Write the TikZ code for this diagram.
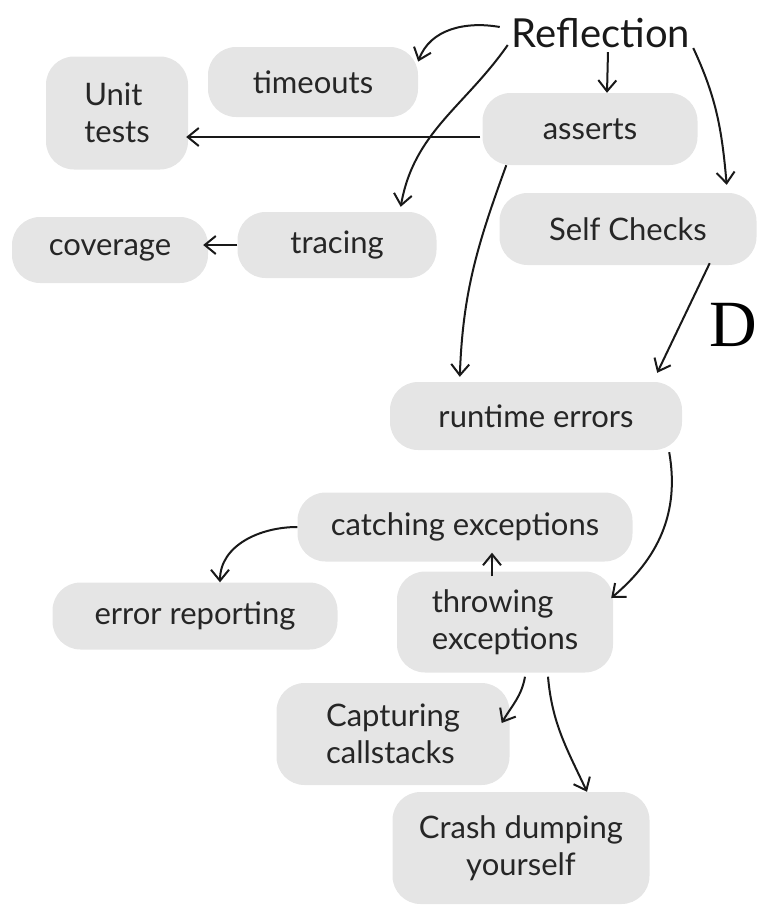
\documentclass[tikz,border=0pt]{standalone}
\usepackage{fontspec}
\setmainfont{Lato}
\newfontfamily\serifD{Liberation Serif}
\usetikzlibrary{arrows.meta}

\begin{document}
\begin{tikzpicture}[x=1pt,y=-1pt,
    bubble/.style={inner sep=0pt, fill=black!10, rounded corners=28pt,
      text=black!85, font=\fontsize{31}{37}\selectfont},
    link/.style={draw=black!90, line width=2pt,
      -{Straight Barb[length=11pt,width=18pt,line width=2pt]}}]
  \useasboundingbox (0,0) rectangle (759,906);

  % top: the root and what hangs off it
  \node[inner sep=0pt, text=black!90, font=\fontsize{40}{44}\selectfont]
    (reflection) at (601,33) {Reflection};
  \node[bubble, minimum width=210, minimum height=70] (timeouts) at (313,82)
    {timeouts};
  \node[bubble, minimum width=142, minimum height=113, align=left]
    (unittests) at (117,113) {Unit\\tests};
  \node[bubble, minimum width=215, minimum height=72] (asserts) at (590,129)
    {asserts};
  \node[bubble, minimum width=257, minimum height=72] (selfchecks)
    at (628,229) {Self Checks};
  \node[bubble, minimum width=199, minimum height=66] (tracing) at (337,245)
    {tracing};
  \node[bubble, minimum width=196, minimum height=66] (coverage) at (110,250)
    {coverage};
  \node[text=black, font=\serifD\fontsize{66}{66}\selectfont, inner sep=0pt]
    (dee) at (733,325) {D};

  % middle and bottom
  \node[bubble, minimum width=292, minimum height=68] (runtime) at (536,416)
    {runtime errors};
  \node[bubble, minimum width=335, minimum height=69] (catching)
    at (465,527) {catching exceptions};
  \node[bubble, minimum width=285, minimum height=67] (errorrep)
    at (195,616) {error reporting};
  \node[bubble, minimum width=216, minimum height=101, align=left]
    (throwing) at (505,622) {throwing\\exceptions};
  \node[bubble, minimum width=233, minimum height=102, align=left]
    (capturing) at (393,734) {Capturing\\callstacks};
  \node[bubble, minimum width=257, minimum height=112, align=center]
    (crash) at (521,848) {Crash dumping\\yourself};

  \draw[link] ([shift={(-12,-6)}]reflection.west) to[out=170,in=70]
    (timeouts.11);
  \draw[link] ([shift={(7,4)}]reflection.south) --
    ([shift={(17,0)}]asserts.north);
  \draw[link] ([shift={(3,0)}]reflection.south east) to[out=-65,in=95]
    ([shift={(-30,-8)}]selfchecks.north east);
  \draw[link] ([shift={(-4,-3)}]reflection.south west) to[out=-125,in=80]
    ([shift={(-36,-5)}]tracing.north east);
  \draw[link] ([shift={(-2,8)}]asserts.west) --
    ([shift={(-2,8)}]asserts.west -| unittests.east);
  \draw[link] ([shift={(24,0)}]asserts.south west) to[out=-110,in=88]
    ([shift={(70,-5)}]runtime.north west);
  \draw[link] ([shift={(-47,-2)}]selfchecks.south east) --
    ([shift={(-25,-9)}]runtime.north east);
  \draw[link] (tracing.west) -- ([shift={(-5,0)}]tracing.west -| coverage.east);
  \draw[link] ([shift={(-13,2)}]runtime.south east) to[out=-80,in=40]
    ([shift={(-2,-24)}]throwing.east);
  \draw[link] ([shift={(-13,5)}]throwing.north) --
    ([shift={(-13,-9)}]throwing.north |- catching.south);
  \draw[link] (catching.west) to[out=180,in=90]
    ([shift={(25,0)}]errorrep.north);
  \draw[link] ([shift={(20,4)}]throwing.south) to[out=-100,in=60]
    ([shift={(-8,-11)}]capturing.east);
  \draw[link] ([shift={(43,4)}]throwing.south) to[out=-85,in=115]
    ([shift={(66,0)}]crash.north);
\end{tikzpicture}
\end{document}
